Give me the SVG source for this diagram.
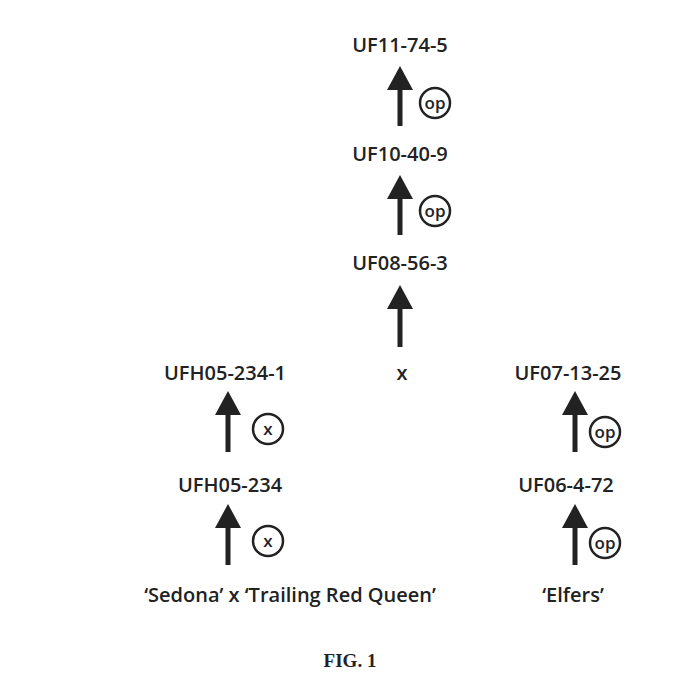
<svg xmlns="http://www.w3.org/2000/svg" width="700" height="700" viewBox="0 0 700 700">
<style>
.t{font-family:"Open Sans","Liberation Sans",sans-serif;font-size:20px;fill:#222;text-anchor:middle;font-weight:600}
.c{fill:none;stroke:#222;stroke-width:2.5}
.ct{font-family:"Open Sans","Liberation Sans",sans-serif;font-size:17px;fill:#222;text-anchor:middle;font-weight:600}
.a{stroke:#222;stroke-width:5;fill:none;marker-end:url(#h)}
</style>
<defs><marker id="h" markerUnits="userSpaceOnUse" markerWidth="26" markerHeight="26" refX="12" refY="13" orient="auto" viewBox="0 0 26 26"><path d="M0,0 L24,13 L0,26 Z" fill="#222"/></marker></defs>
<rect width="700" height="700" fill="#fff"/>
<g id="connectors">
<line class="a" x1="400" y1="126" x2="400" y2="78"/>
<line class="a" x1="400" y1="235" x2="400" y2="187"/>
<line class="a" x1="400" y1="347" x2="400" y2="297"/>
<line class="a" x1="228" y1="452" x2="228" y2="403"/>
<line class="a" x1="228" y1="565" x2="228" y2="516"/>
<line class="a" x1="575" y1="452" x2="575" y2="403"/>
<line class="a" x1="575" y1="565" x2="575" y2="516"/>
<circle class="c" cx="435" cy="103" r="15"/><text class="ct" x="435" y="109">op</text>
<circle class="c" cx="435" cy="211" r="15"/><text class="ct" x="435" y="217">op</text>
<circle class="c" cx="268" cy="429" r="15"/><text class="ct" x="268" y="435">x</text>
<circle class="c" cx="268" cy="541" r="15"/><text class="ct" x="268" y="547">x</text>
<circle class="c" cx="605" cy="432" r="15"/><text class="ct" x="605" y="438">op</text>
<circle class="c" cx="605" cy="543" r="15"/><text class="ct" x="605" y="549">op</text>
</g>
<g id="n1"><text class="t" x="400" y="52">UF11-74-5</text></g>
<g id="n2"><text class="t" x="400" y="161">UF10-40-9</text></g>
<g id="n3"><text class="t" x="400" y="270">UF08-56-3</text></g>
<g id="n4"><text class="t" x="225" y="380">UFH05-234-1</text></g>
<g id="nx"><text class="t" x="402" y="380">x</text></g>
<g id="n5"><text class="t" x="568" y="380">UF07-13-25</text></g>
<g id="n6"><text class="t" x="230" y="492">UFH05-234</text></g>
<g id="n7"><text class="t" x="566" y="492">UF06-4-72</text></g>
<g id="n8"><text class="t" x="290" y="602">‘Sedona’ x ‘Trailing Red Queen’</text></g>
<g id="n9"><text class="t" x="573" y="602">‘Elfers’</text></g>
<text x="350" y="667" font-family="Liberation Serif,serif" font-weight="bold" font-size="19" text-anchor="middle" fill="#222">FIG. 1</text>
</svg>
